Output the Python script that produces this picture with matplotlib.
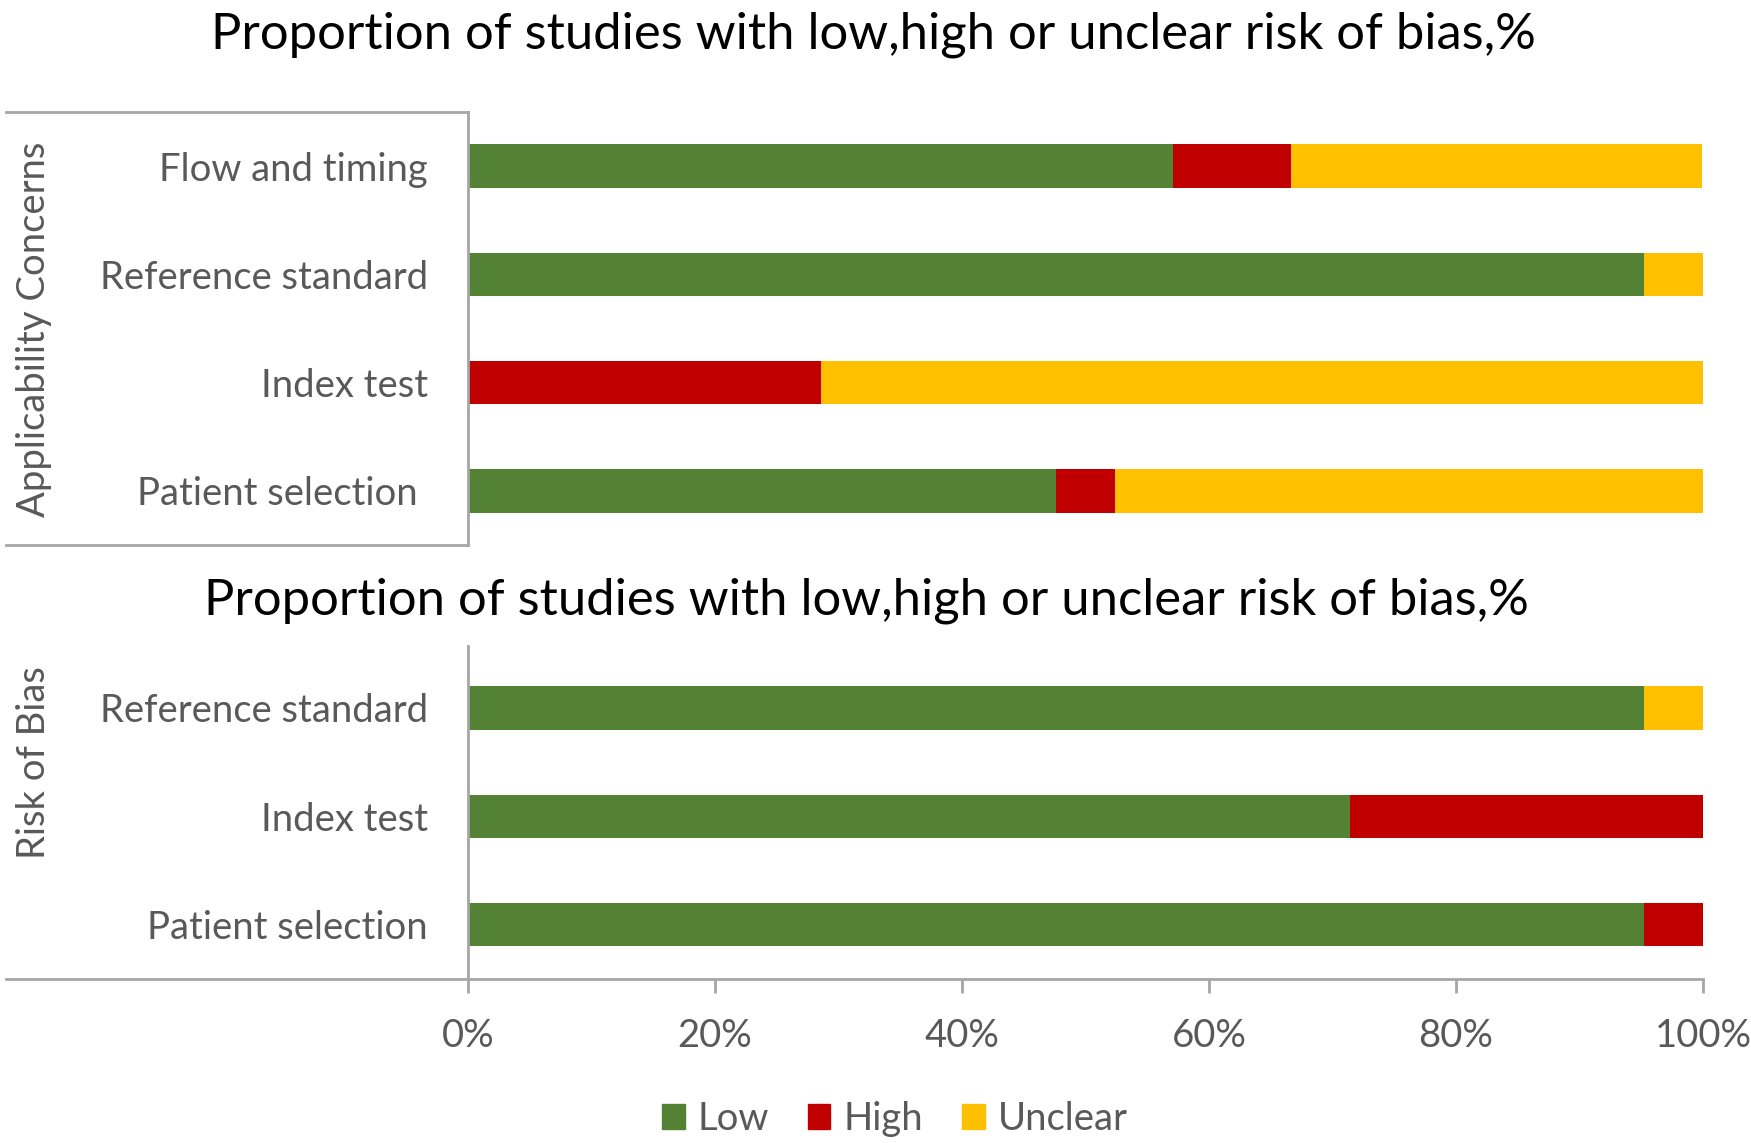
import numpy as np
import matplotlib
matplotlib.use('Agg')
import matplotlib.pyplot as plt
from matplotlib.lines import Line2D
from matplotlib.patches import Patch

plt.rcParams['font.family'] = ['Lato', 'DejaVu Sans']

# data, percentages of 21 studies
top_cats = ['Patient selection ', 'Index test', 'Reference standard', 'Flow and timing']
top_low = [47.6, 0.0, 95.2, 57.1]
top_high = [4.8, 28.6, 0.0, 9.5]
top_unclear = [47.6, 71.4, 4.8, 33.3]

bot_cats = ['Patient selection', 'Index test', 'Reference standard']
bot_low = [95.2, 71.4, 95.2]
bot_high = [4.8, 28.6, 0.0]
bot_unclear = [0.0, 0.0, 4.8]

x_ticks = [0, 20, 40, 60, 80, 100]
x_labels = ['0%', '20%', '40%', '60%', '80%', '100%']

green = '#548235'
red = '#C00000'
yellow = '#FFC000'
txt = '#595959'
grey = '#A6A6A6'
title = 'Proportion of studies with low,high or unclear risk of bias,%'
fs = 27.5

fig = plt.figure(figsize=(17.51, 11.43), dpi=100)
ax1 = fig.add_axes([0.2673, 0.5232, 0.7053, 0.3788])
ax2 = fig.add_axes([0.2673, 0.1435, 0.7053, 0.2913])

def stack(ax, cats, low, high, unclear):
    y = np.arange(len(cats))
    low = np.array(low)
    high = np.array(high)
    unclear = np.array(unclear)
    ax.barh(y, low, height=0.4, color=green)
    ax.barh(y, high, left=low, height=0.4, color=red)
    ax.barh(y, unclear, left=low + high, height=0.4, color=yellow)
    ax.set_yticks(y)
    ax.set_yticklabels(cats, fontsize=fs, color=txt)
    ax.tick_params(axis='y', length=0, pad=29)
    ax.set_xlim(0, 100)
    for s in ['top', 'right']:
        ax.spines[s].set_visible(False)
    ax.spines['left'].set_color(grey)
    ax.spines['left'].set_linewidth(2)

stack(ax1, top_cats, top_low, top_high, top_unclear)
ax1.set_ylim(-0.5, 3.5)
ax1.spines['bottom'].set_visible(False)
ax1.set_xticks([])
# box around category labels
ax1.add_line(Line2D([-0.374, 0], [1, 1], transform=ax1.transAxes, color=grey, lw=2, clip_on=False))
ax1.add_line(Line2D([-0.374, 0], [0, 0], transform=ax1.transAxes, color=grey, lw=2, clip_on=False))

stack(ax2, bot_cats, bot_low, bot_high, bot_unclear)
ax2.set_ylim(-0.5, 2.57)
ax2.spines['bottom'].set_color(grey)
ax2.spines['bottom'].set_linewidth(2)
ax2.add_line(Line2D([-0.374, 0], [0, 0], transform=ax2.transAxes, color=grey, lw=2, clip_on=False))
ax2.set_xticks(x_ticks)
ax2.set_xticklabels(x_labels, fontsize=fs, color=txt)
ax2.tick_params(axis='x', length=10, width=2, color=grey, pad=18)

fig.text(0.499, 0.970, title, fontsize=36.5, color='black', ha='center', va='center')
fig.text(0.495, 0.474, title, fontsize=36.5, color='black', ha='center', va='center')

fig.text(0.0194, 0.712, 'Applicability Concerns', rotation=90, fontsize=fs, color=txt,
         ha='center', va='center')
fig.text(0.0194, 0.333, 'Risk of Bias', rotation=90, fontsize=fs, color=txt,
         ha='center', va='center')

handles = [Patch(color=green, label='Low'), Patch(color=red, label='High'),
           Patch(color=yellow, label='Unclear')]
leg = fig.legend(handles=handles, loc='center', bbox_to_anchor=(0.511, 0.021), ncol=3,
                 frameon=False, fontsize=fs, handlelength=0.6, handleheight=0.6,
                 handletextpad=0.35, columnspacing=1.0)
for t in leg.get_texts():
    t.set_color(txt)

fig.savefig('out.png', dpi=100)
